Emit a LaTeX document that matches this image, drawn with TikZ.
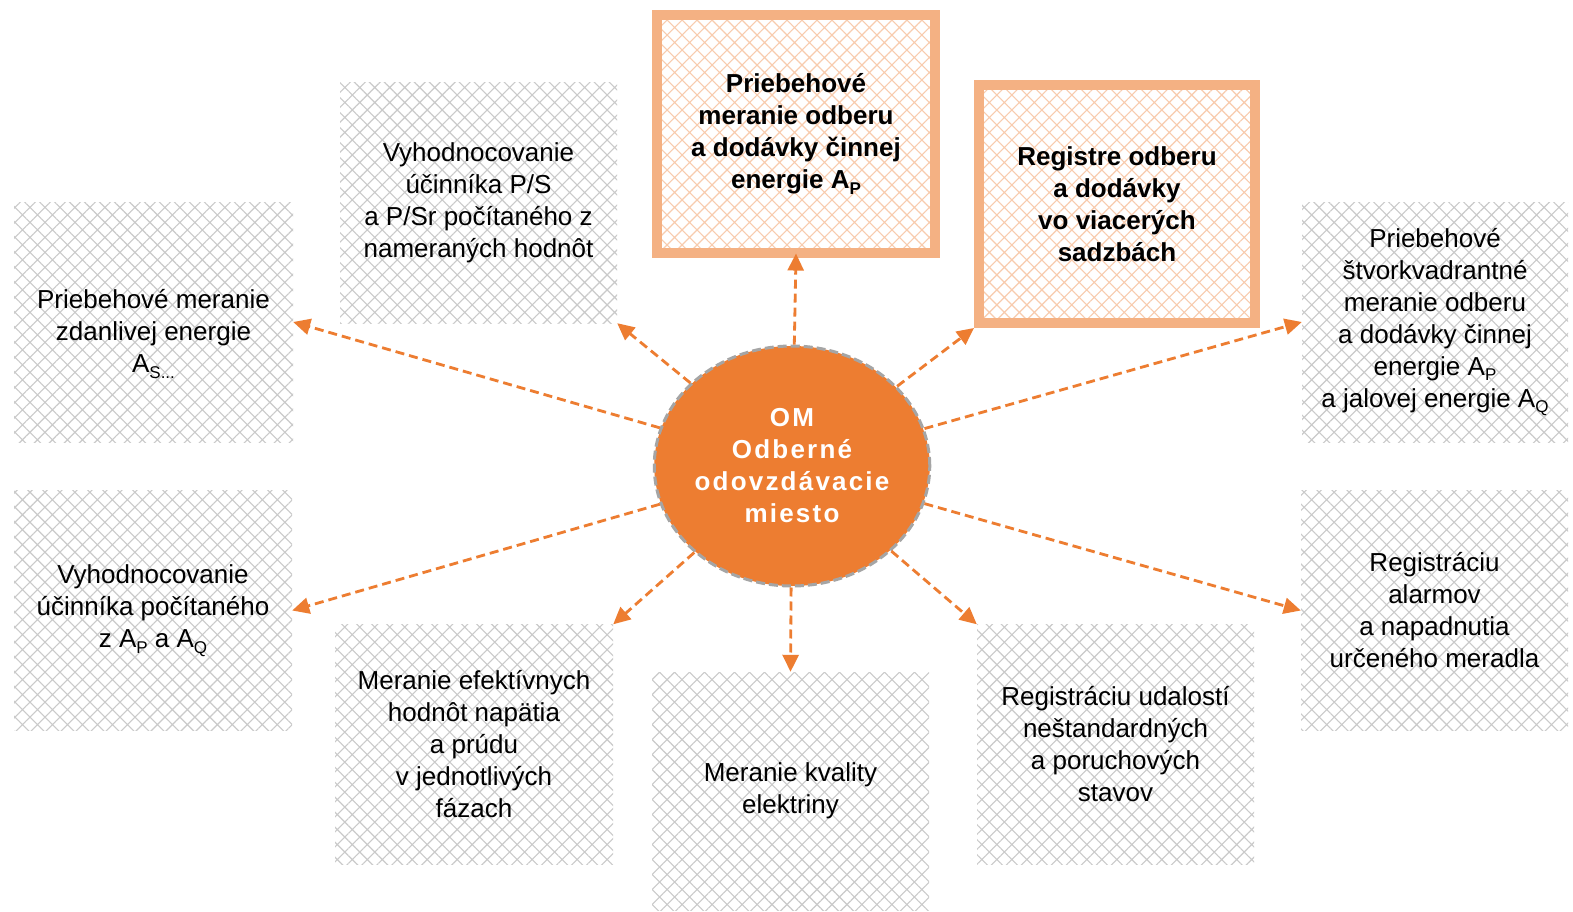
\documentclass[tikz,border=0pt]{standalone}
\usepackage{fontspec}
\setmainfont{Liberation Sans}
\newfontfamily\omfont[LetterSpace=8.5]{Liberation Sans}
\usetikzlibrary{shapes.geometric,arrows.meta,patterns.meta}
\definecolor{omorange}{HTML}{ED7D31}
\definecolor{hlborder}{HTML}{F4B183}
\definecolor{hlpat}{HTML}{F8CBAD}
\definecolor{graypat}{HTML}{CACACA}
\definecolor{ellborder}{HTML}{A5A5A5}
\newcommand\sbs[1]{\raisebox{-0.22em}{\fontsize{17}{17}\selectfont #1}}
\begin{document}
\begin{tikzpicture}[x=1pt,y=-1pt,
  txt/.style={align=center,font=\fontsize{26}{32}\selectfont,text=black},
  graybox/.style={txt,minimum width=279pt,minimum height=240pt,inner sep=0pt,
    pattern={Hatch[angle=45,distance=10.6pt,line width=1.1pt]},pattern color=graypat},
  hlbox/.style={txt,font=\fontsize{26}{32}\selectfont\bfseries,minimum width=278pt,minimum height=238pt,inner sep=0pt,
    draw=hlborder,line width=10pt,
    pattern={Hatch[angle=45,distance=10.6pt,line width=1.1pt]},pattern color=hlpat},
  arr/.style={draw=omorange,line width=2.8pt,dash pattern=on 9pt off 5pt,-{Triangle[length=17pt,width=16pt]}}
]
\fill[white] (0,0) rectangle (1573,912);
\useasboundingbox (0,0) rectangle (1573,912);

\node[hlbox] (b1) at (796,134) {Priebehové\\meranie odberu\\a dodávky činnej\\energie A\sbs{P}};
\node[hlbox,minimum width=276pt] (b2) at (1117,204) {Registre odberu\\a dodávky\\vo viacerých\\sadzbách};
\node[graybox,minimum width=277pt] (b3) at (478.5,203) {Vyhodnocovanie\\účinníka P/S\\a P/Sr počítaného z\\nameraných hodnôt};
\node[graybox] (b4) at (153.5,322) {};
\node[txt] (t4) at ([yshift=-12pt]b4.center) {Priebehové meranie\\zdanlivej energie\\A\sbs{S...}};
\node[graybox,minimum width=266pt] (b5) at (1435,322) {Priebehové\\štvorkvadrantné\\meranie odberu\\a dodávky činnej\\energie A\sbs{P}\\a jalovej energie A\sbs{Q}};
\node[graybox,minimum width=278pt] (b6) at (153,610.5) {Vyhodnocovanie\\účinníka počítaného\\z A\sbs{P} a A\sbs{Q}};
\node[graybox,minimum width=278pt] (b7) at (474,744.5) {Meranie efektívnych\\hodnôt napätia\\a prúdu\\v jednotlivých\\fázach};
\node[graybox,minimum width=277pt,minimum height=238pt] (b8) at (790.5,791) {Meranie kvality\\elektriny};
\node[graybox,minimum width=277pt] (b9) at (1115.5,744.5) {Registráciu udalostí\\neštandardných\\a poruchových\\stavov};
\node[graybox,minimum width=267pt] (b10) at (1434.5,610.5) {Registráciu\\alarmov\\a napadnutia\\určeného meradla};

\node[ellipse,minimum width=272pt,minimum height=240pt,inner sep=0pt,fill=omorange,
  draw=ellborder,line width=3pt,dash pattern=on 9pt off 4pt,
  text=white,align=center,font=\omfont\bfseries\fontsize{26}{32}\selectfont] (om) at (792,466)
  {OM\\Odberné\\odovzdávacie\\miesto};

\draw[arr] (om) -- (b1.south);
\draw[arr] (om) -- (b2.south west);
\draw[arr] (om) -- (b3.south east);
\draw[arr] (om) -- (b4.east);
\draw[arr] (om) -- (b5.west);
\draw[arr] (om) -- (b6.east);
\draw[arr] (om) -- (b7.north east);
\draw[arr] (om) -- (b8.north);
\draw[arr] (om) -- (b9.north west);
\draw[arr] (om) -- (b10.west);
\end{tikzpicture}
\end{document}
